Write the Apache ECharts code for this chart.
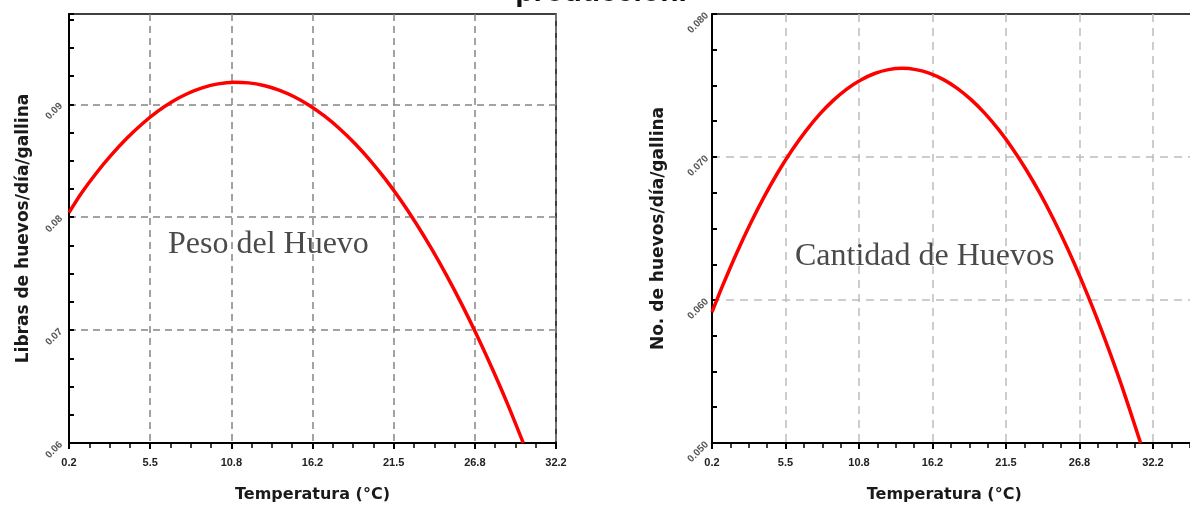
<!DOCTYPE html>
<html>
<head>
<meta charset="utf-8">
<script src="https://cdn.jsdelivr.net/npm/echarts@6/dist/echarts.min.js"></script>
<style>
html,body{margin:0;padding:0;background:#fff;overflow:hidden;}
#c{width:1190px;height:513px;}
</style>
</head>
<body>
<div id="c"></div>
<script>
// ---- data ----
const titleText = 'producción.';
const xTickLabels = ['0.2', '5.5', '10.8', '16.2', '21.5', '26.8', '32.2'];
const xStart = 0.2;               // first temperature tick
const xStep = 16 / 3;             // spacing of temperature ticks
const xName = 'Temperatura (°C)';

const pesoName = 'Peso del Huevo';
const pesoYName = 'Libras de huevos/día/gallina';
const pesoTemp   = [0.2, 1, 2, 3, 4, 5, 6, 7, 8, 9, 10, 11, 12, 13, 14, 15, 16, 17, 18, 19, 20, 21, 22, 23, 24, 25, 26, 27, 28, 29, 30.05];
const pesoValues = [0.08040, 0.08210, 0.08392, 0.08554, 0.08699, 0.08826, 0.08935, 0.09025, 0.09096, 0.09148, 0.09181, 0.09195,
                    0.09190, 0.09167, 0.09126, 0.09067, 0.08990, 0.08895, 0.08782, 0.08651, 0.08502, 0.08335, 0.08150, 0.07947,
                    0.07726, 0.07487, 0.07230, 0.06955, 0.06662, 0.06351, 0.06000];

const cantName = 'Cantidad de Huevos';
const cantYName = 'No. de huevos/día/gallina';
const cantTemp   = [0.2, 1, 2, 3, 4, 5, 6, 7, 8, 9, 10, 11, 12, 13, 14, 15, 16, 17, 18, 19, 20, 21, 22, 23, 24, 25, 26, 27, 28, 29, 30, 31.3];
const cantValues = [0.05915, 0.06107, 0.06331, 0.06537, 0.06725, 0.06895, 0.07047, 0.07181, 0.07298, 0.07396, 0.07477, 0.07539,
                    0.07584, 0.07611, 0.07620, 0.07611, 0.07585, 0.07541, 0.07480, 0.07401, 0.07305, 0.07191, 0.07060, 0.06911,
                    0.06745, 0.06561, 0.06360, 0.06141, 0.05905, 0.05651, 0.05380, 0.05000];

// ---- chart ----
const chart = echarts.init(document.getElementById('c'));

function xLabel(v) {
  const i = Math.round(v / xStep);
  if (Math.abs(v - i * xStep) < 1e-6 && i >= 0 && i < xTickLabels.length) return xTickLabels[i];
  return '';
}
function yLabel(dec, maxShown) {
  return function (v) {
    const k = Math.round(v * 100);
    if (Math.abs(v * 100 - k) > 1e-6 || v > maxShown + 1e-9) return '';
    return v.toFixed(dec);
  };
}
const nameFont = { fontFamily: 'DejaVu Sans', fontWeight: 'bold', fontSize: 16, color: '#1a1a1a' };

function xAxisCfg(gridIndex, max, gridColor, dash, pad) {
  return {
    type: 'value', gridIndex: gridIndex, min: 0, max: max, interval: xStep,
    name: xName, nameLocation: 'middle', nameGap: 44,
    nameTextStyle: Object.assign({}, nameFont, { padding: pad }),
    axisLine: { show: true, onZero: false, lineStyle: { color: '#000', width: 2 } },
    axisTick: { show: true, length: 6, lineStyle: { color: '#000', width: 2 } },
    minorTick: { show: true, splitNumber: 4, length: 5, lineStyle: { color: '#000', width: 1.5 } },
    axisLabel: { formatter: xLabel, margin: 14, fontFamily: 'Liberation Sans, Arial', fontWeight: 'bold', fontSize: 11, color: '#222' },
    splitLine: { show: true, showMinLine: false, showMaxLine: false, lineStyle: { color: gridColor, width: 1.5, type: dash } }
  };
}
function yAxisCfg(gridIndex, min, max, dec, maxShown, name, nameGap, margin, gridColor, dash) {
  return {
    type: 'value', gridIndex: gridIndex, min: min, max: max, interval: 0.01,
    name: name, nameLocation: 'middle', nameGap: nameGap,
    nameTextStyle: Object.assign({}, nameFont, { fontSize: 17 }),
    axisLine: { show: true, onZero: false, lineStyle: { color: '#000', width: 2 } },
    axisTick: { show: true, inside: true, length: 5, lineStyle: { color: '#000', width: 2 } },
    minorTick: { show: true, splitNumber: 4, length: 5, lineStyle: { color: '#000', width: 2 } },
    axisLabel: { formatter: yLabel(dec, maxShown), rotate: 45, margin: margin, fontFamily: 'Liberation Sans, Arial', fontWeight: 'bold', fontSize: 10, color: '#555' },
    splitLine: { show: true, showMinLine: false, showMaxLine: false, lineStyle: { color: gridColor, width: 1.5, type: dash } }
  };
}

const option = {
  backgroundColor: '#fff',
  animation: false,
  grid: [
    { left: 69, top: 14, width: 487, height: 429, show: true, borderColor: '#000', borderWidth: 1.5, outerBoundsMode: 'none', containLabel: false },
    { left: 712, top: 14, width: 514.5, height: 429, show: true, borderColor: '#000', borderWidth: 1.5, outerBoundsMode: 'none', containLabel: false }
  ],
  xAxis: [
    xAxisCfg(0, 32, '#858585', [7, 5], [0, 0, 0, 0]),
    xAxisCfg(1, xStep * 7, '#bdbdbd', [8, 6], [0, 50, 0, 0])
  ],
  yAxis: [
    yAxisCfg(0, 0.06, 0.098, 2, 0.09, pesoYName, 37, 8, '#858585', [7, 5]),
    yAxisCfg(1, 0.05, 0.08, 3, 0.08, cantYName, 45, 5, '#bdbdbd', [8, 6])
  ],
  series: [
    {
      name: pesoName, type: 'line', xAxisIndex: 0, yAxisIndex: 0, smooth: 0.3, symbol: 'none',
      lineStyle: { color: '#ff0000', width: 3.5 },
      data: pesoTemp.map((t, i) => [t - xStart, pesoValues[i]])
    },
    {
      name: cantName, type: 'line', xAxisIndex: 1, yAxisIndex: 1, smooth: 0.3, symbol: 'none',
      lineStyle: { color: '#ff0000', width: 3.5 },
      data: cantTemp.map((t, i) => [t - xStart, cantValues[i]])
    }
  ],
  graphic: [
    { type: 'text', left: 168, top: 229, z: 10,
      style: { text: pesoName, font: '32px "Liberation Serif", "Times New Roman", serif', fill: '#4a4a4a' } },
    { type: 'text', left: 795, top: 241, z: 10,
      style: { text: cantName, font: '32px "Liberation Serif", "Times New Roman", serif', fill: '#4a4a4a' } },
    { type: 'text', x: 601, y: 8, z: 10,
      style: { text: titleText, font: 'bold 30px "Liberation Sans", Arial', fill: '#111', align: 'center', verticalAlign: 'bottom' } }
  ]
};
chart.setOption(option);
</script>
</body>
</html>
